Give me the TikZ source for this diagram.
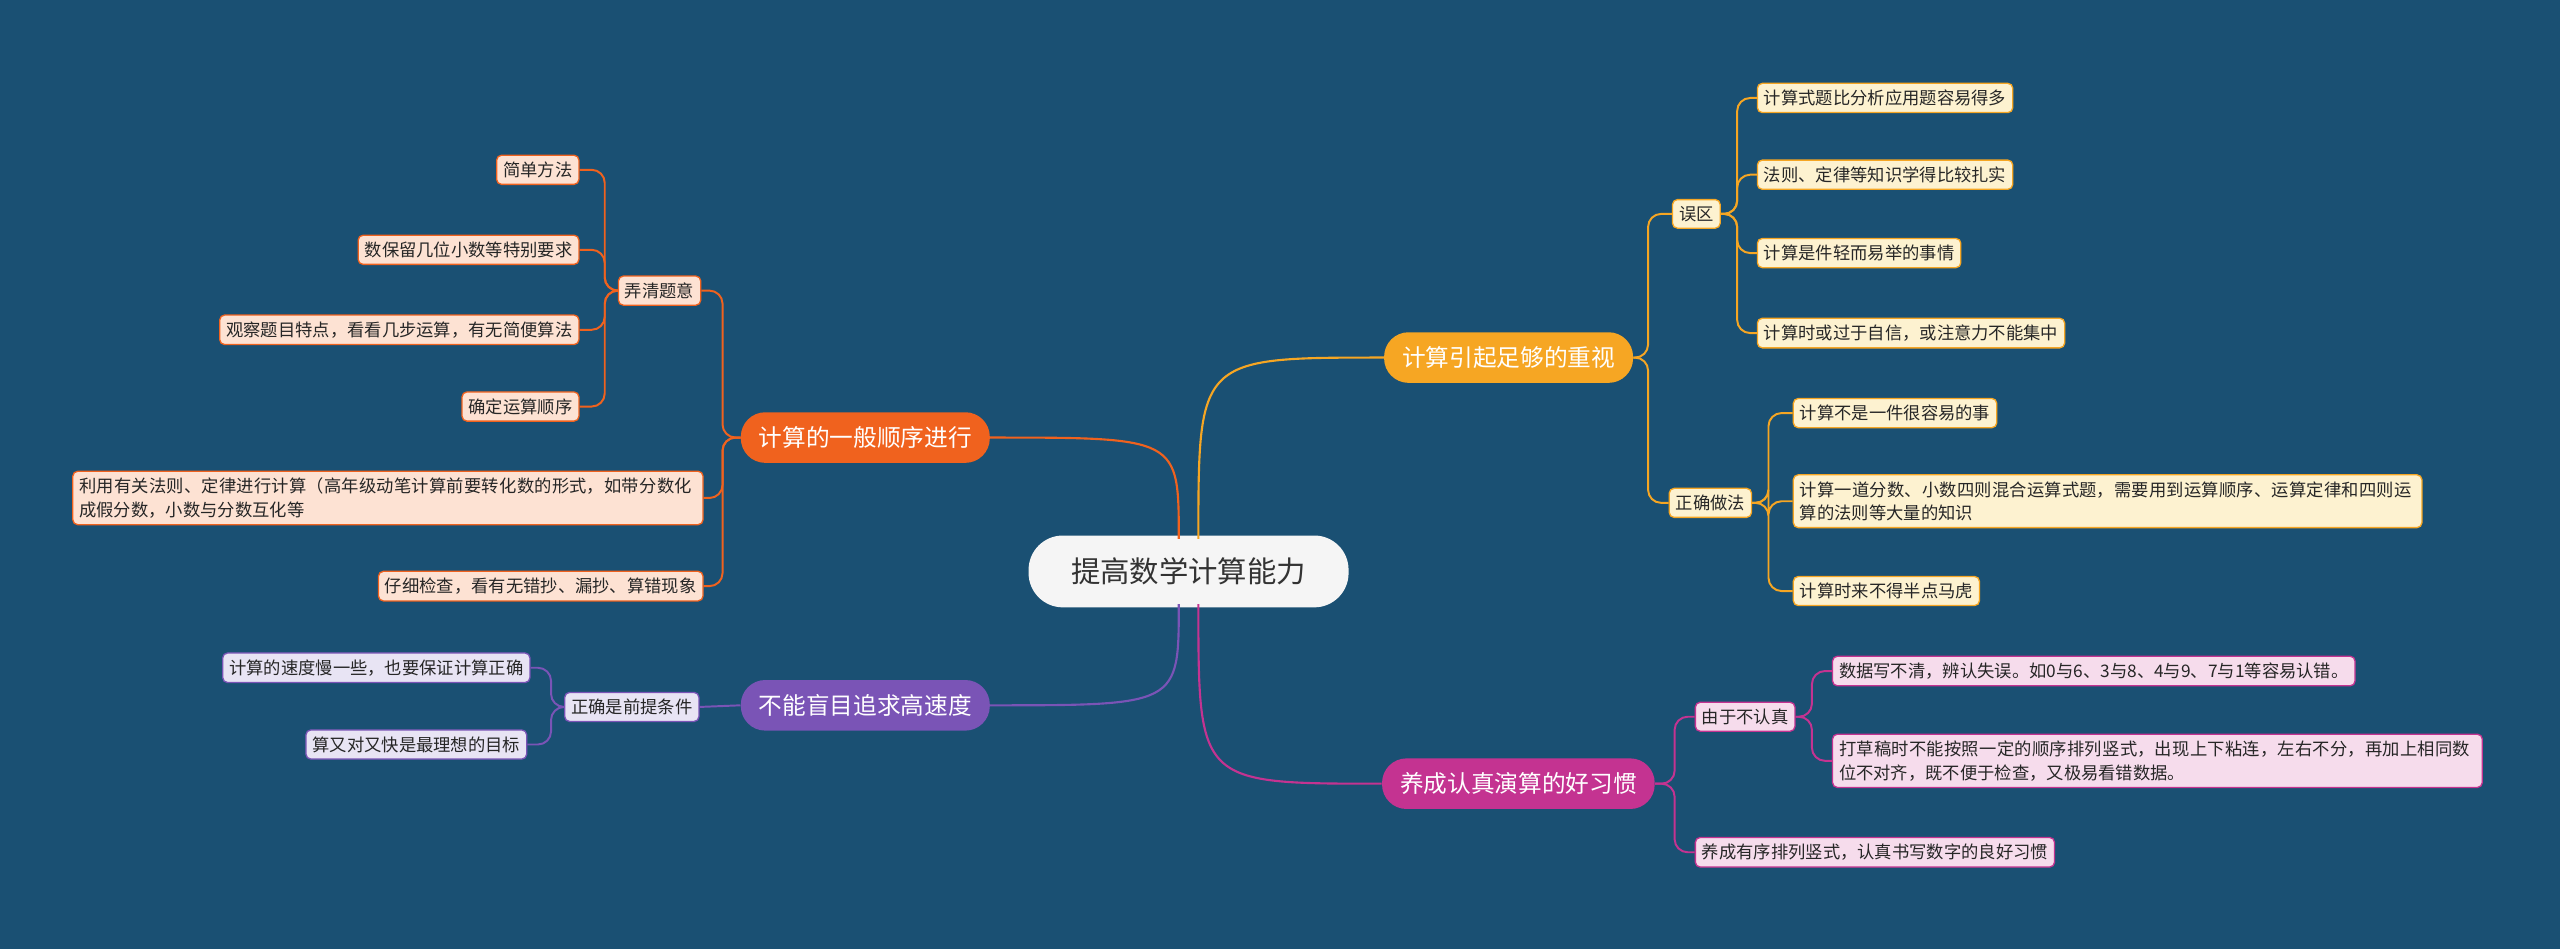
\documentclass[tikz,border=0pt]{standalone}
\usepackage{fontspec}
\setmainfont{Noto Sans CJK SC}
\XeTeXlinebreaklocale "zh"
\XeTeXlinebreakskip=0pt plus 1pt
\begin{document}
\begin{tikzpicture}[x=1pt,y=-1pt,
  leaf/.style={rounded corners=3,draw=#1,line width=0.8pt,inner sep=4pt,font=\fontsize{10.6}{14.5}\selectfont,text=black!85},
  oleaf/.style={leaf=ocol,fill=ofill},
  yleaf/.style={leaf=ycol,fill=yfill},
  pleaf/.style={leaf=pcol,fill=pfill},
  mleaf/.style={leaf=mcol,fill=mfill},
  mainn/.style={rounded corners=15,fill=#1,text=white,minimum height=31,inner xsep=11,font=\fontsize{14.5}{17}\selectfont},
  ln/.style={draw=#1,line width=1.2pt,rounded corners=8},
]
\definecolor{bg}{RGB}{26,80,115}
\definecolor{ocol}{RGB}{240,98,30}\definecolor{ofill}{RGB}{253,226,211}
\definecolor{ycol}{RGB}{246,166,35}\definecolor{yfill}{RGB}{253,242,208}
\definecolor{pcol}{RGB}{122,84,182}\definecolor{pfill}{RGB}{232,228,244}
\definecolor{mcol}{RGB}{196,51,145}\definecolor{mfill}{RGB}{246,220,236}
\fill[bg] (0,0) rectangle (1568,581);
\useasboundingbox (0,0) rectangle (1568,581);

\node[rounded corners=21,fill=white!96!black,minimum width=196,minimum height=44,font=\fontsize{18}{20}\selectfont,text=black!80] (c) at (728,350) {提高数学计算能力};

\node[mainn=ocol] (o) at (530,268) {计算的一般顺序进行};
\node[mainn=pcol] (p) at (530,432) {不能盲目追求高速度};
\node[mainn=ycol] (y) at (924,219) {计算引起足够的重视};
\node[mainn=mcol] (m) at (930,480) {养成认真演算的好习惯};

\draw[ocol,line width=1.3pt] (722,330) .. controls (722,268) .. (o.east);
\draw[pcol,line width=1.3pt] (722,370) .. controls (722,432) .. (p.east);
\draw[ycol,line width=1.3pt] (734,330) .. controls (734,219) .. (y.west);
\draw[mcol,line width=1.3pt] (734,370) .. controls (734,480) .. (m.west);

% orange
\node[oleaf] (o1) at (404,178) {弄清题意};
\node[oleaf,anchor=east] (o11) at (355,104) {简单方法};
\node[oleaf,anchor=east] (o12) at (355,153) {数保留几位小数等特别要求};
\node[oleaf,anchor=east] (o13) at (355,202) {观察题目特点，看看几步运算，有无简便算法};
\node[oleaf,anchor=east] (o14) at (355,249) {确定运算顺序};
\node[oleaf,anchor=east,text width=378,align=left] (o2) at (431,305) {利用有关法则、定律进行计算（高年级动笔计算前要转化数的形式，如带分数化成假分数，小数与分数互化等};
\node[oleaf,anchor=east] (o3) at (431,359) {仔细检查，看有无错抄、漏抄、算错现象};
\foreach \t in {o1,o2,o3} \draw[ln=ocol] (o.west) -- ++(-11,0) |- (\t.east);
\foreach \t in {o11,o12,o13,o14} \draw[ln=ocol] (o1.west) -- ++(-8,0) |- (\t.east);

% purple
\node[pleaf] (p1) at (387,433) {正确是前提条件};
\node[pleaf,anchor=east] (p11) at (325,409) {计算的速度慢一些，也要保证计算正确};
\node[pleaf,anchor=east] (p12) at (323,456) {算又对又快是最理想的目标};
\draw[ln=pcol] (p.west) -- (p1.east);
\foreach \t in {p11,p12} \draw[ln=pcol] (p1.west) -- ++(-8,0) |- (\t.east);

% yellow
\node[yleaf,anchor=west] (y1) at (1024,131) {误区};
\node[yleaf,anchor=west] (y11) at (1076,60) {计算式题比分析应用题容易得多};
\node[yleaf,anchor=west] (y12) at (1076,107) {法则、定律等知识学得比较扎实};
\node[yleaf,anchor=west] (y13) at (1076,155) {计算是件轻而易举的事情};
\node[yleaf,anchor=west] (y14) at (1076,204) {计算时或过于自信，或注意力不能集中};
\node[yleaf,anchor=west] (y2) at (1022,308) {正确做法};
\node[yleaf,anchor=west] (y21) at (1098,253) {计算不是一件很容易的事};
\node[yleaf,anchor=west,text width=377,align=left] (y22) at (1098,307) {计算一道分数、小数四则混合运算式题，需要用到运算顺序、运算定律和四则运算的法则等大量的知识};
\node[yleaf,anchor=west] (y23) at (1098,362) {计算时来不得半点马虎};
\foreach \t in {y1,y2} \draw[ln=ycol] (y.east) -- ++(9,0) |- (\t.west);
\foreach \t in {y11,y12,y13,y14} \draw[ln=ycol] (y1.east) -- ++(10,0) |- (\t.west);
\foreach \t in {y21,y22,y23} \draw[ln=ycol] (y2.east) -- ++(10,0) |- (\t.west);

% magenta
\node[mleaf,anchor=west] (m1) at (1038,439) {由于不认真};
\node[mleaf,anchor=west] (m11) at (1122,411) {数据写不清，辨认失误。如0与6、3与8、4与9、7与1等容易认错。};
\node[mleaf,anchor=west,text width=390,align=left] (m12) at (1122,466) {打草稿时不能按照一定的顺序排列竖式，出现上下粘连，左右不分，再加上相同数位不对齐，既不便于检查，又极易看错数据。};
\node[mleaf,anchor=west] (m2) at (1038,522) {养成有序排列竖式，认真书写数字的良好习惯};
\foreach \t in {m1,m2} \draw[ln=mcol] (m.east) -- ++(12,0) |- (\t.west);
\foreach \t in {m11,m12} \draw[ln=mcol] (m1.east) -- ++(10,0) |- (\t.west);
\end{tikzpicture}
\end{document}
